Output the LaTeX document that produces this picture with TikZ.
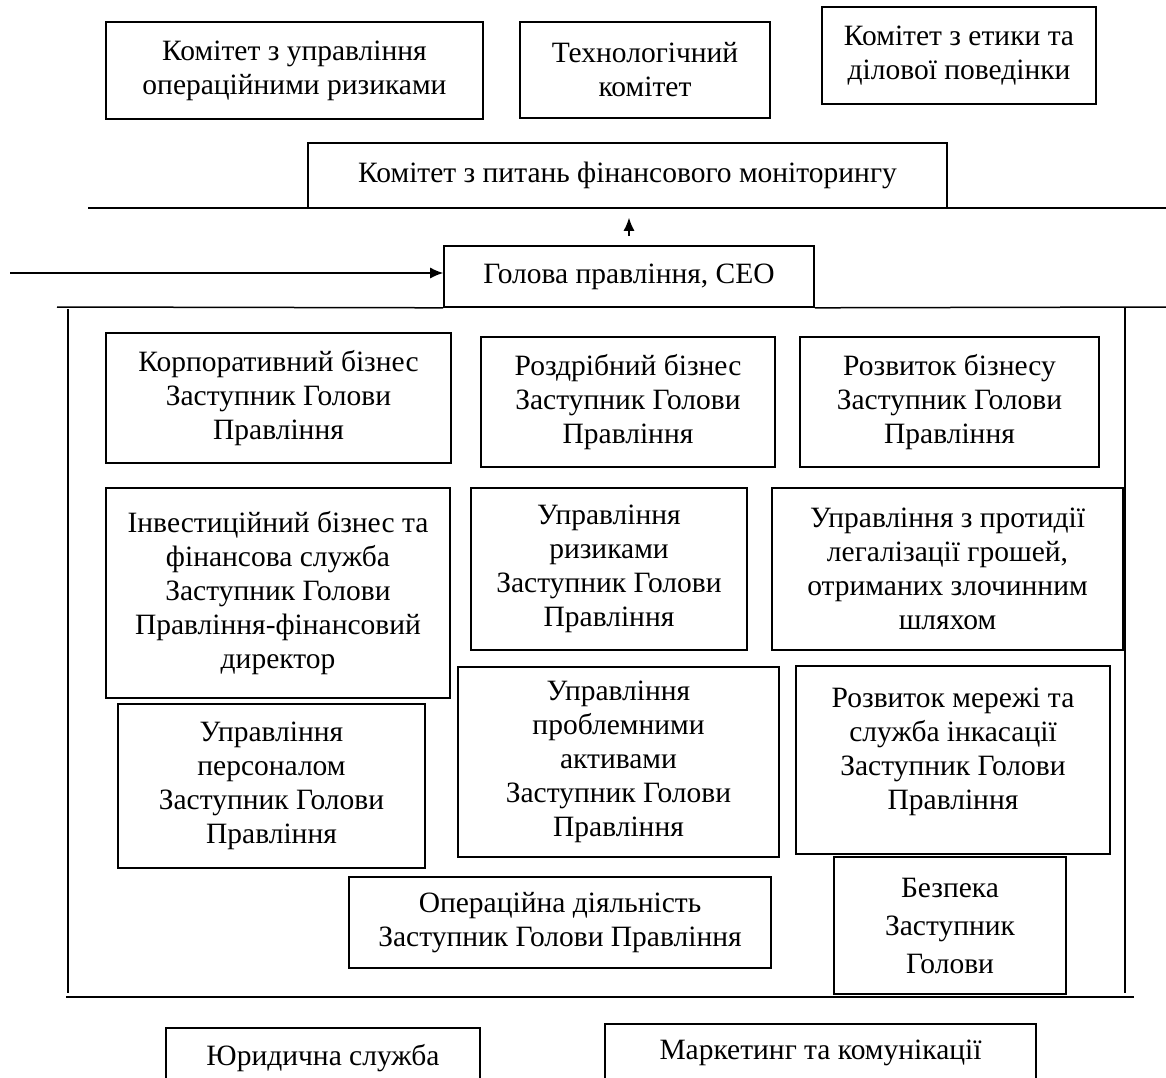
\documentclass[tikz,border=0pt]{standalone}
\usepackage{fontspec}
\setmainfont{Liberation Serif}
\usepackage{tikz}
\usetikzlibrary{arrows.meta, positioning, calc}

\begin{document}
\begin{tikzpicture}[
    x=1pt, y=-1pt,
    orgbox/.style={rectangle, draw, line width=1.6pt, align=center, inner sep=0pt, font=\fontsize{29.5}{34}\selectfont},
    arrow/.style={line width=1.3pt, -{Latex[length=13pt, width=11pt]}},
    frame/.style={line width=1.5pt},
    divider/.style={line width=2.4pt}
]
\useasboundingbox (0,0) rectangle (1166,1077);
\clip (0,0) rectangle (1166,1077);

% committees
\node[orgbox, minimum width=377pt, minimum height=97pt] (oprisk) at (294.5,70.5) {Комітет з управління\\операційними ризиками};
\node[orgbox, minimum width=250pt, minimum height=96pt] (tech) at (645,70) {Технологічний\\комітет};
\node[orgbox, minimum width=274pt, minimum height=97pt] (ethics) at (959,55.5) {Комітет з етики та\\ділової поведінки};
\node[orgbox, minimum width=639pt, minimum height=65pt] (finmon) at (627.5,175.5) {Комітет з питань фінансового моніторингу};

% board
\node[orgbox, minimum width=370pt, minimum height=61pt] (ceo) at (629,276.5) {Голова правління, CEO};

% deputies
\node[orgbox, minimum width=345pt, minimum height=130pt] (corp) at (278.5,398) {Корпоративний бізнес\\Заступник Голови\\Правління};
\node[orgbox, minimum width=294pt, minimum height=130pt] (retail) at (628,402) {Роздрібний бізнес\\Заступник Голови\\Правління};
\node[orgbox, minimum width=299pt, minimum height=130pt] (devbiz) at (949.5,402) {Розвиток бізнесу\\Заступник Голови\\Правління};
\node[orgbox, minimum width=344pt, minimum height=210pt] (invest) at (278,593) {Інвестиційний бізнес та\\фінансова служба\\Заступник Голови\\Правління-фінансовий\\директор};
\node[orgbox, minimum width=276pt, minimum height=162pt] (risk) at (609,569) {Управління\\ризиками\\Заступник Голови\\Правління};
\node[orgbox, minimum width=351pt, minimum height=162pt] (aml) at (947.5,569) {Управління з протидії\\легалізації грошей,\\отриманих злочинним\\шляхом};
\node[orgbox, minimum width=307pt, minimum height=164pt] (hr) at (271.5,786) {Управління\\персоналом\\Заступник Голови\\Правління};
\node[orgbox, minimum width=321pt, minimum height=190pt] (npa) at (618.5,762) {Управління\\проблемними\\активами\\Заступник Голови\\Правління};
\node[orgbox, minimum width=314pt, minimum height=188pt, text depth=22pt] (network) at (953,760) {Розвиток мережі та\\служба інкасації\\Заступник Голови\\Правління};
\node[orgbox, minimum width=422pt, minimum height=91pt] (ops) at (560,922.5) {Операційна діяльність\\Заступник Голови Правління};
\node[orgbox, minimum width=232pt, minimum height=137pt] (security) at (950,925.5) {Безпека\\[4pt]Заступник\\[4pt]Голови};

% services
\node[orgbox, minimum width=314pt, minimum height=60pt] (legal) at (323,1058) {Юридична служба};
\node[orgbox, minimum width=431pt, minimum height=58pt] (marketing) at (820.5,1053) {Маркетинг та комунікації};

% lines
\coordinate (topleft) at (88,208);
\coordinate (topright) at (1166,208);
\draw[divider] (topleft) -- (topright);
\draw[arrow, shorten <=9pt, shorten >=9pt] (ceo.north) -- (ceo.north |- finmon.south);
\coordinate (board) at (10,273);
\draw[arrow] (board) -- (board -| ceo.west);
\draw[frame] (57,307) -- (ceo.south west);
\draw[frame] (ceo.south east) -- (1166,307);
\draw[frame] (68,309) -- (68,993);
\draw[frame] (1125,307) -- (1125,993);
\draw[divider] (66,997) -- (1134,997);
\end{tikzpicture}
\end{document}
